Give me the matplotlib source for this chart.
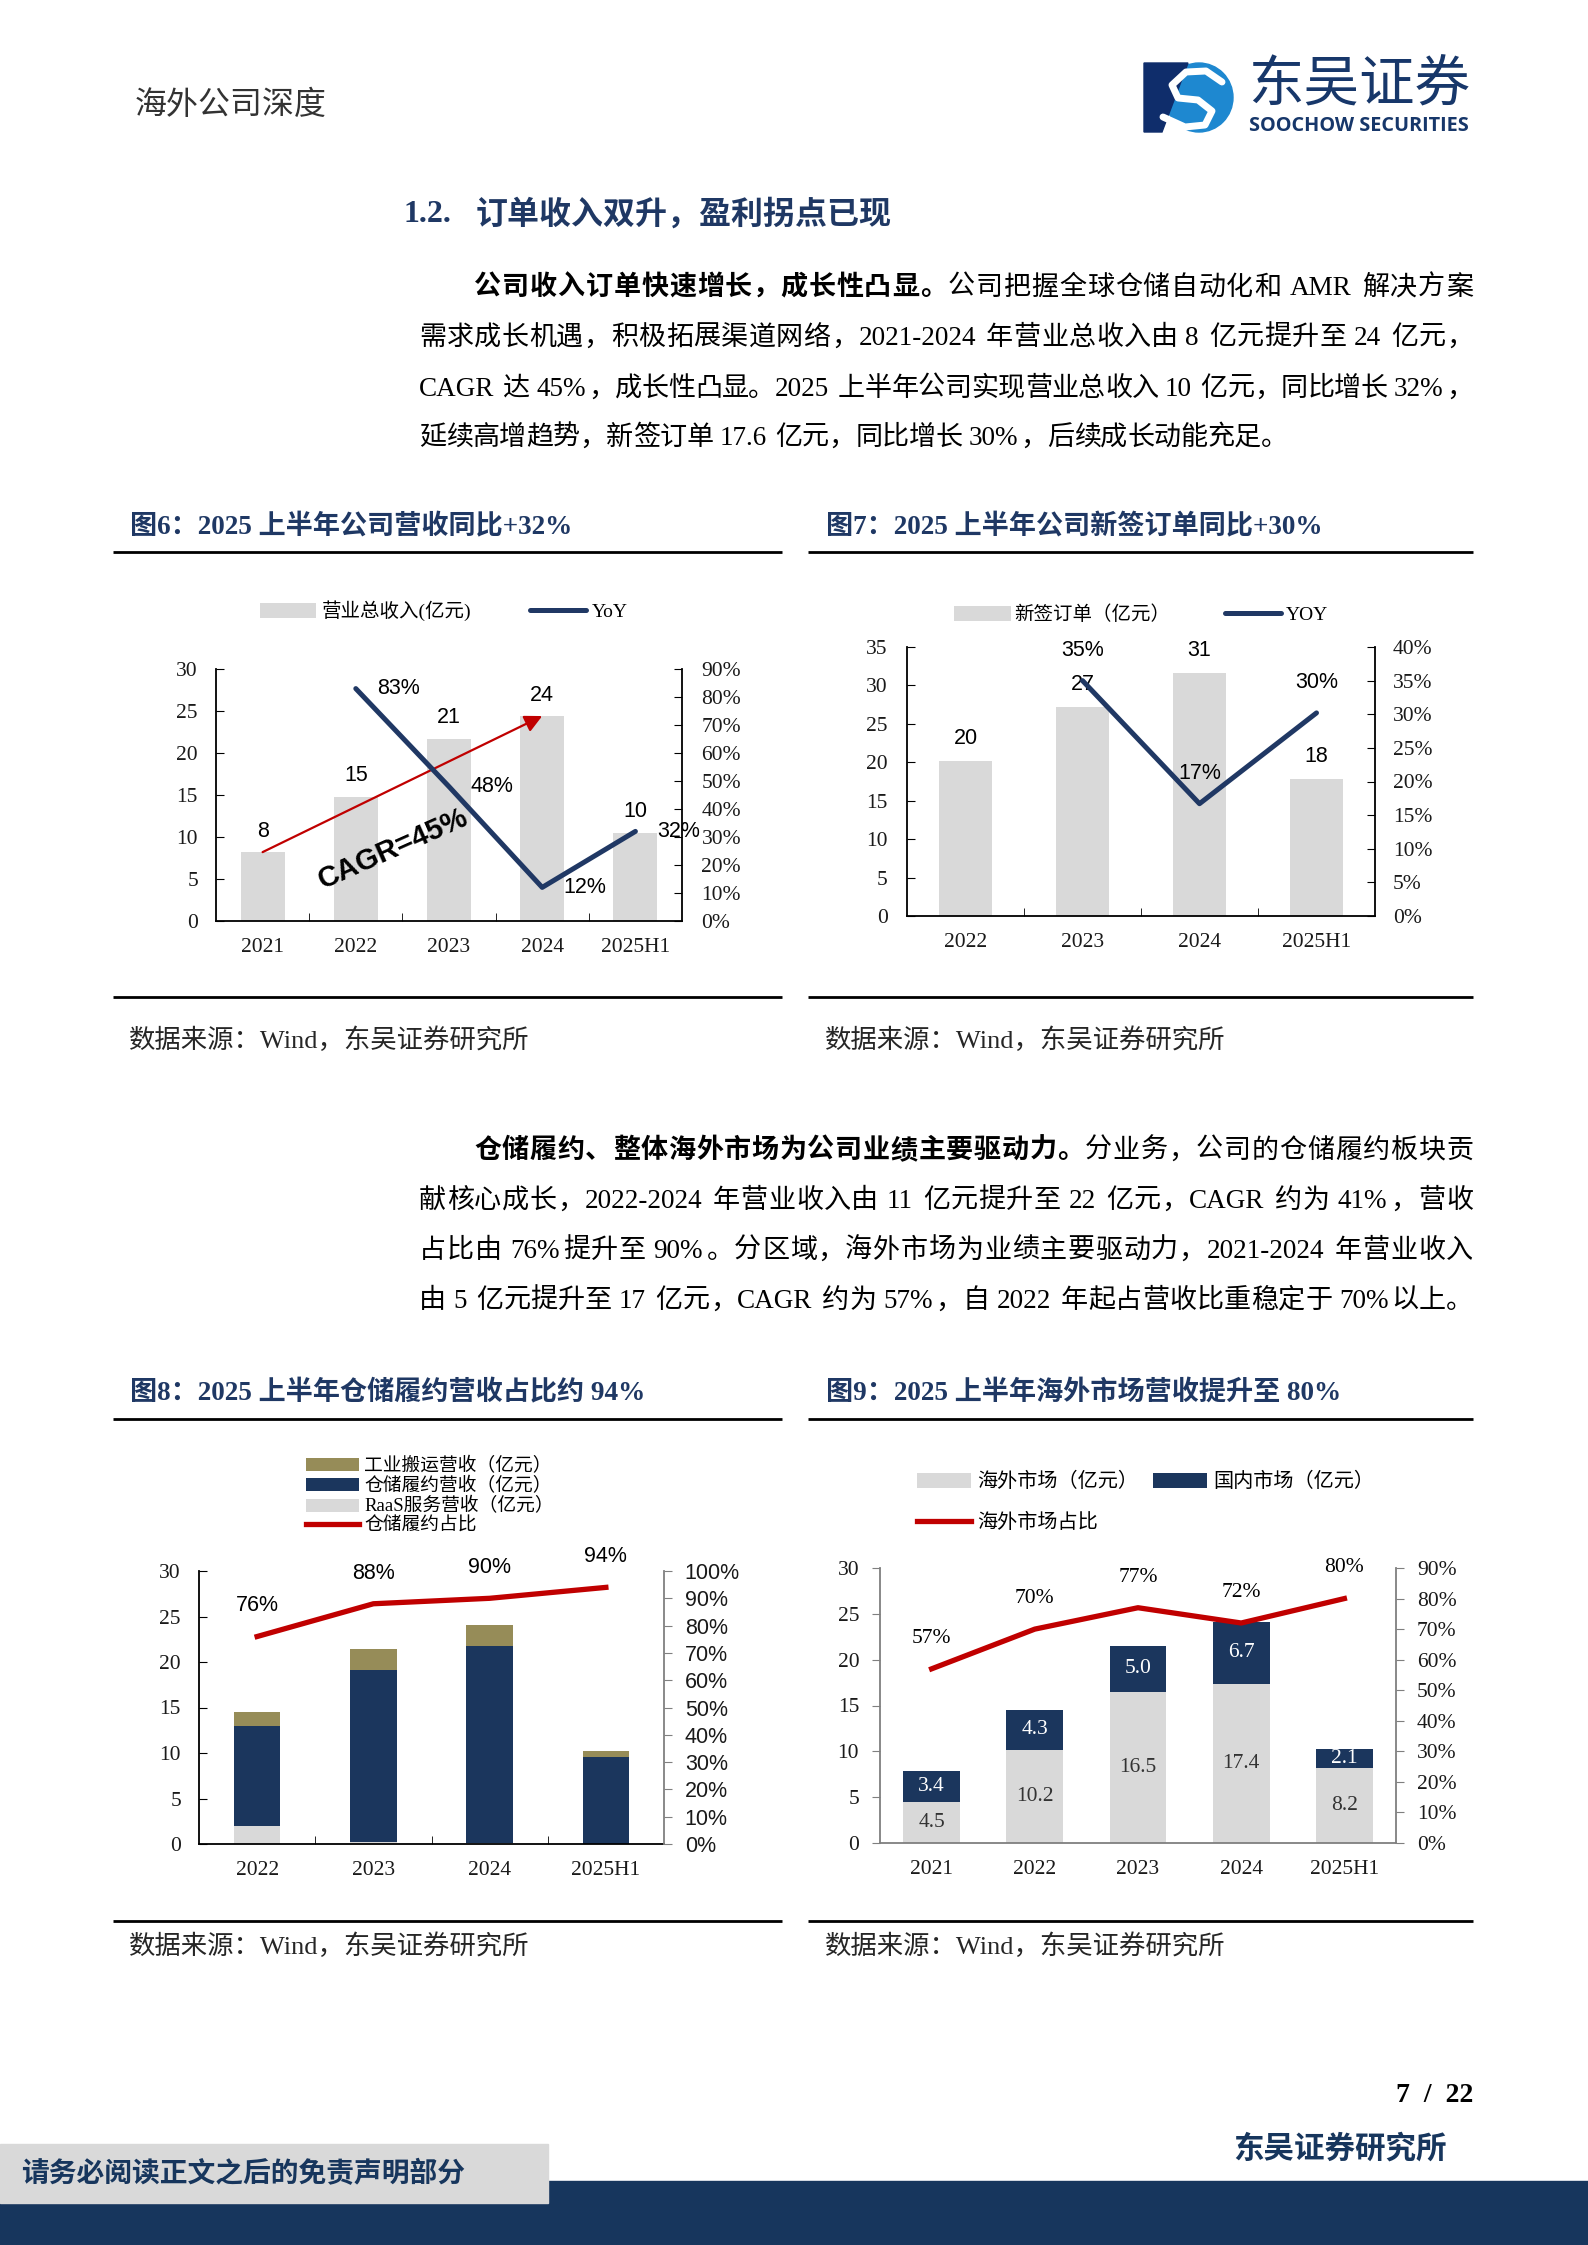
import re
import numpy as np
import matplotlib
matplotlib.use('Agg')
import matplotlib.pyplot as plt
from matplotlib.patches import Rectangle, Polygon, Ellipse

W, H = 1588, 2245
CJK = 'Noto Sans CJK SC'
SERIF = ['Liberation Serif', CJK]
SANS = ['Liberation Sans', CJK]
NAVY = '#1f3864'
LINE_NAVY = '#203864'
BAR_NAVY = '#1b365d'
GRAY = '#d9d9d9'
RED = '#c00000'
KHAKI = '#968c58'

plt.rcParams['font.family'] = SERIF

# ---- data -------------------------------------------------------------
# 图6 营收
years6 = ['2021', '2022', '2023', '2024', '2025H1']
revenue = [8.2, 14.8, 21.7, 24.4, 10.5]
revenue_labels = ['8', '15', '21', '24', '10']
yoy6 = [83, 48, 12, 32]            # 2022 .. 2025H1

# 图7 新签订单
years7 = ['2022', '2023', '2024', '2025H1']
orders = [20.2, 27.2, 31.6, 17.8]
orders_labels = ['20', '27', '31', '18']
yoy7 = [35, 16.7, 30.2]            # 2023 .. 2025H1

# 图8 分业务
years8 = ['2022', '2023', '2024', '2025H1']
raas = [2.0, 0.2, 0.1, 0.0]
warehouse = [11.0, 18.9, 21.7, 9.6]
industrial = [1.5, 2.3, 2.3, 0.6]
wh_share = [76, 88, 90, 94]

# 图9 分区域
years9 = ['2021', '2022', '2023', '2024', '2025H1']
overseas = [4.5, 10.2, 16.5, 17.4, 8.2]
domestic = [3.4, 4.3, 5.0, 6.7, 2.1]
os_share = [57, 70, 77, 72, 80]

para1 = [
    [('公司收入订单快速增长，成长性凸显。', 'bold'), ('公司把握全球仓储自动化和 AMR 解决方案', 'normal')],
    [('需求成长机遇，积极拓展渠道网络，2021-2024 年营业总收入由 8 亿元提升至 24 亿元，', 'normal')],
    [('CAGR 达 45%，成长性凸显。2025 上半年公司实现营业总收入 10 亿元，同比增长 32%，', 'normal')],
    [('延续高增趋势，新签订单 17.6 亿元，同比增长 30%，后续成长动能充足。', 'normal')],
]
para2 = [
    [('仓储履约、整体海外市场为公司业绩主要驱动力。', 'bold'), ('分业务，公司的仓储履约板块贡', 'normal')],
    [('献核心成长，2022-2024 年营业收入由 11 亿元提升至 22 亿元，CAGR 约为 41%，营收', 'normal')],
    [('占比由 76%提升至 90%。分区域，海外市场为业绩主要驱动力，2021-2024 年营业收入', 'normal')],
    [('由 5 亿元提升至 17 亿元，CAGR 约为 57%，自 2022 年起占营收比重稳定于 70%以上。', 'normal')],
]

# ---- page -------------------------------------------------------------
fig = plt.figure(figsize=(W / 100, H / 100), dpi=100)
bg = fig.add_axes([0, 0, 1, 1])
bg.set_xlim(0, W)
bg.set_ylim(H, 0)
bg.axis('off')
renderer = fig.canvas.get_renderer()


def box(x0, y0, x1, y1):
    return [x0 / W, 1 - y1 / H, (x1 - x0) / W, (y1 - y0) / H]


BODY = 19.5
EM = BODY * 100 / 72


def body_line(y, x0, segments, x1=None, gap=0.0):
    items = []
    for text, weight in segments:
        for tok in re.findall(r'[A-Za-z0-9.%\-]+| |.', text):
            if tok == ' ':
                items.append((None, 0.25 * EM))
                continue
            t = bg.text(0, y + 0.36 * EM, tok, fontsize=BODY, weight=weight,
                        va='baseline', ha='left', color='black')
            if ord(tok[0]) > 0x2E80:
                w = EM
            else:
                w = t.get_window_extent(renderer).width + 0.1 * EM
            items.append((t, w))
    if x1 is not None:
        gap = (x1 - x0 - sum(w for _, w in items)) / (len(items) - 1)
    x = x0
    for t, w in items:
        if t is not None:
            t.set_x(x)
        x += w + gap
    return gap


# header
bg.text(135, 105, '海外公司深度', fontsize=23, color='#333333', va='center', family=CJK)
# logo
bg.add_patch(Ellipse((1199, 97.5), 68, 69, color='#1e88d0'))
bg.add_patch(Polygon([(1144, 63), (1188, 63), (1162, 132), (1144, 132)], color='#0f2d6b'))
bg.plot([1222, 1206, 1186, 1172, 1178, 1198, 1212, 1205, 1185, 1163],
        [82, 71, 72, 85, 98, 100, 111, 125, 127, 117],
        color='white', lw=5, solid_capstyle='round', solid_joinstyle='round')
bg.text(1248, 86, '东吴证券', fontsize=40, color='#17376a', va='center', family=CJK)
logo_en = bg.text(1249, 126, 'SOOCHOW SECURITIES', fontsize=14, weight='bold',
                  color='#17376a', va='center', family='Open Sans')
wl = logo_en.get_window_extent(renderer).width
logo_en.set_fontsize(14 * 221 / wl)

# section title
bg.text(403, 215, '1.2.', fontsize=23, weight='bold', color=NAVY, va='center')
bg.text(476, 215, '订单收入双升，盈利拐点已现', fontsize=23, weight='bold', color=NAVY, va='center')

# paragraphs
g = 0
for i, (yy, seg) in enumerate(zip([285, 335, 386, 435], para1)):
    x0 = 474 if i == 0 else 419
    if i < 3:
        g = body_line(yy, x0, seg, x1=1473)
    else:
        body_line(yy, x0, seg, gap=g)
for i, (yy, seg) in enumerate(zip([1148, 1198, 1248, 1298], para2)):
    x0 = 474 if i == 0 else 419
    body_line(yy, x0, seg, x1=1473)

# chart frames, titles and sources
titles = [(130, 527, '图6：2025 上半年公司营收同比+32%'),
          (826, 527, '图7：2025 上半年公司新签订单同比+30%'),
          (130, 1393, '图8：2025 上半年仓储履约营收占比约 94%'),
          (826, 1393, '图9：2025 上半年海外市场营收提升至 80%')]
for tx, ty, tt in titles:
    bg.text(tx, ty, tt, fontsize=19.5, weight='bold', color=NAVY, va='center')
for (xa, xb) in [(113, 782), (808, 1473)]:
    for yl in [552, 997, 1419, 1921]:
        bg.plot([xa, xb], [yl, yl], color='black', lw=2.0, solid_capstyle='butt')
for sx, sy in [(129, 1040), (825, 1040), (129, 1946), (825, 1946)]:
    bg.text(sx, sy, '数据来源：Wind，东吴证券研究所', fontsize=19, color='#262626', va='center')

# footer
bg.add_patch(Rectangle((0, 2181), W, H - 2181, color='#17365d'))
bg.add_patch(Rectangle((0, 2144), 548, 59, color='#d9d9d9'))
bg.text(21, 2174, '请务必阅读正文之后的免责声明部分', fontsize=20, weight='bold',
        color='#17365d', va='center', family=CJK)
bg.text(1473, 2096, '7  /  22', fontsize=20, weight='bold', ha='right', va='center')
bg.text(1233, 2149, '东吴证券研究所', fontsize=22, weight='bold', color='#17365d',
        va='center', family=CJK)


# ---- axis helpers -----------------------------------------------------
def style_main(ax, cats, ymax, step, tdir='in', minor=True, col='black', pad=10):
    n = len(cats)
    ax.set_xlim(-0.5, n - 0.5)
    ax.set_ylim(0, ymax)
    ax.set_xticks(np.arange(n))
    ax.set_xticklabels(cats)
    ax.set_yticks(np.arange(0, ymax + 1, step))
    if minor:
        ax.set_xticks(np.arange(n - 1) + 0.5, minor=True)
        ax.tick_params(axis='x', which='minor', direction='in', length=6, color=col)
    ax.tick_params(axis='x', which='major', length=0, pad=12, labelsize=15.5)
    ax.tick_params(axis='y', direction=tdir, length=6, pad=pad, labelsize=15.5, color=col)
    for lab in ax.get_xticklabels() + ax.get_yticklabels():
        lab.set_family(SERIF)
        lab.set_color('#1a1a1a')
    for s in ['top', 'right']:
        ax.spines[s].set_visible(False)
    for s in ['left', 'bottom']:
        ax.spines[s].set_color(col)
        ax.spines[s].set_linewidth(1.3)
    ax.set_facecolor('none')


def style_twin(axr, ymax, step, tdir='in', col='black', fam=SERIF, pad=10):
    axr.set_ylim(0, ymax)
    ticks = np.arange(0, ymax + 1, step)
    axr.set_yticks(ticks)
    axr.set_yticklabels([f'{t}%' for t in ticks])
    axr.tick_params(axis='y', direction=tdir, length=6, pad=pad, labelsize=15.5, color=col)
    for lab in axr.get_yticklabels():
        lab.set_family(fam)
        lab.set_color('#1a1a1a')
    for s in ['top', 'left', 'bottom']:
        axr.spines[s].set_visible(False)
    axr.spines['right'].set_color(col)
    axr.spines['right'].set_linewidth(1.3)


def legend_at(axr, handles, labels, cx, cy, loc='center', ncol=1, size=13, **kw):
    axr.legend(handles, labels, loc=loc, bbox_to_anchor=(cx / W, 1 - cy / H),
               bbox_transform=fig.transFigure, ncol=ncol, frameon=False,
               prop=dict(family=SERIF, size=size), borderaxespad=0, borderpad=0, **kw)


# ---- 图6 ---------------------------------------------------------------
ax = fig.add_axes(box(216, 669, 682, 921))
x6 = np.arange(len(years6))
bars6 = ax.bar(x6, revenue, width=0.47, color=GRAY)
style_main(ax, years6, 30, 5, pad=13)
for xi, v, lab in zip(x6, revenue, revenue_labels):
    ax.annotate(lab, (xi, v), xytext=(0, 15), textcoords='offset points',
                ha='center', va='center', fontsize=15.5, family=SANS)
ax.annotate('', xy=(3, revenue[3]), xytext=(0, revenue[0]),
            arrowprops=dict(arrowstyle='-|>', color=RED, lw=1.6, mutation_scale=26,
                            shrinkA=0, shrinkB=0))
ax.text(1.4, 8.6, 'CAGR=45%', rotation=24, rotation_mode='anchor', ha='center', va='center',
        fontsize=21, weight='bold', family=SANS)
axr = ax.twinx()
line6, = axr.plot(x6[1:], yoy6, color=LINE_NAVY, lw=3.6, solid_capstyle='round')
style_twin(axr, 90, 10, pad=14)
for xi, v in zip(x6[1:], yoy6):
    axr.annotate(f'{v}%', (xi, v), xytext=(31, 0), textcoords='offset points',
                 ha='center', va='center', fontsize=15.5, family=SANS)
legend_at(axr, [bars6, line6], ['营业总收入(亿元)', 'YoY'], 444, 611, ncol=2, size=14,
          handlelength=2.9, handleheight=0.8, handletextpad=0.3, columnspacing=3.0)

# ---- 图7 ---------------------------------------------------------------
ax = fig.add_axes(box(907, 647, 1375, 916))
x7 = np.arange(len(years7))
bars7 = ax.bar(x7, orders, width=0.45, color=GRAY)
style_main(ax, years7, 35, 5, pad=14)
for xi, v, lab in zip(x7, orders, orders_labels):
    ax.annotate(lab, (xi, v), xytext=(0, 16), textcoords='offset points',
                ha='center', va='center', fontsize=15.5, family=SANS)
axr = ax.twinx()
line7, = axr.plot(x7[1:], yoy7, color=LINE_NAVY, lw=3.6, solid_capstyle='round')
style_twin(axr, 40, 5, pad=13)
for xi, v in zip(x7[1:], yoy7):
    axr.annotate(f'{v:.0f}%', (xi, v), xytext=(0, 22), textcoords='offset points',
                 ha='center', va='center', fontsize=15.5, family=SANS)
legend_at(axr, [bars7, line7], ['新签订单（亿元）', 'YOY'], 1141, 615, ncol=2, size=14,
          handlelength=2.9, handleheight=0.8, handletextpad=0.2, columnspacing=2.8)

# ---- 图8 ---------------------------------------------------------------
ax = fig.add_axes(box(199, 1571, 664, 1844))
x8 = np.arange(len(years8))
b_raas = ax.bar(x8, raas, width=0.40, color=GRAY)
b_wh = ax.bar(x8, warehouse, width=0.40, bottom=raas, color=BAR_NAVY)
b_ind = ax.bar(x8, industrial, width=0.40, bottom=np.add(raas, warehouse), color=KHAKI)
style_main(ax, years8, 30, 5, pad=13)
axr = ax.twinx()
line8, = axr.plot(x8, wh_share, color=RED, lw=3.8)
style_twin(axr, 100, 10, tdir='out', col='#808080', fam=SANS, pad=9)
for xi, v in zip(x8, wh_share):
    axr.annotate(f'{v}%', (xi, v), xytext=(0, 22), textcoords='offset points',
                 ha='center', va='center', fontsize=15.5, family=SANS)
legend_at(axr, [b_ind, b_wh, b_raas, line8],
          ['工业搬运营收（亿元）', '仓储履约营收（亿元）', 'RaaS服务营收（亿元）', '仓储履约占比'],
          306, 1496, loc='center left', size=13.5, handlelength=2.8, handleheight=0.7,
          handletextpad=0.3, labelspacing=0.12)

# ---- 图9 ---------------------------------------------------------------
ax = fig.add_axes(box(880, 1568, 1396, 1843))
x9 = np.arange(len(years9))
b_os = ax.bar(x9, overseas, width=0.55, color=GRAY)
b_dm = ax.bar(x9, domestic, width=0.55, bottom=overseas, color=BAR_NAVY)
style_main(ax, years9, 30, 5, tdir='out', minor=False, col='#7f7f7f', pad=9)
for xi, o, d in zip(x9, overseas, domestic):
    ax.text(xi, o / 2, f'{o:.1f}', ha='center', va='center', fontsize=15.5, color='#333333')
    ax.text(xi, o + d / 2, f'{d:.1f}', ha='center', va='center', fontsize=15.5, color='white')
axr = ax.twinx()
line9, = axr.plot(x9, os_share, color=RED, lw=3.8)
style_twin(axr, 90, 10, tdir='out', col='#7f7f7f', pad=9)
for xi, v in zip(x9, os_share):
    axr.annotate(f'{v}%', (xi, v), xytext=(0, 22), textcoords='offset points',
                 ha='center', va='center', fontsize=15.5)
legend_at(axr, [b_os, line9, b_dm], ['海外市场（亿元）', '海外市场占比', '国内市场（亿元）'],
          917, 1503, loc='center left', ncol=2, size=14.5, handlelength=2.7, handleheight=0.8,
          handletextpad=0.3, labelspacing=1.05, columnspacing=0.7)

fig.savefig('out.png', dpi=100)
